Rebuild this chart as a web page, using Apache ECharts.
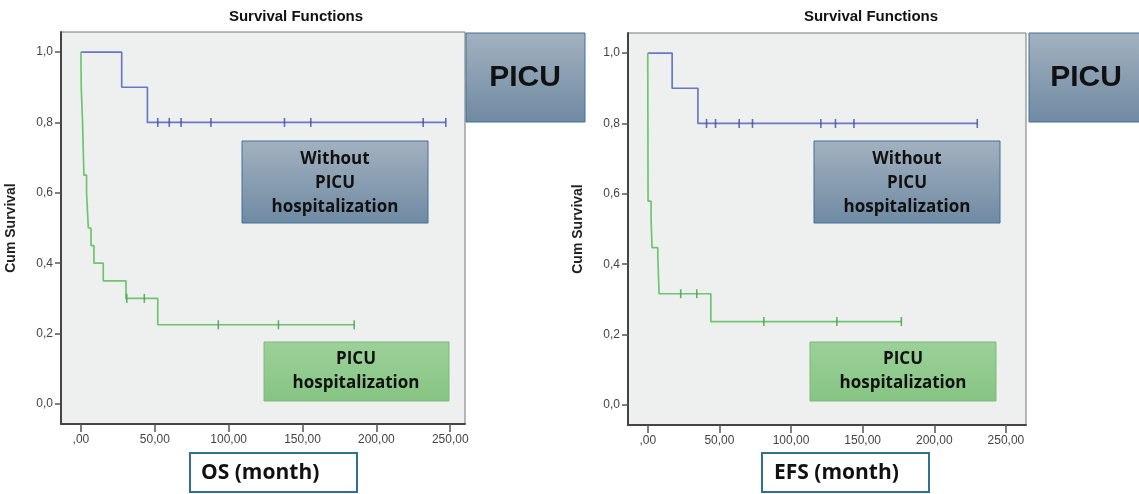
<!DOCTYPE html>
<html>
<head>
<meta charset="utf-8">
<title>Survival Functions</title>
<script src="https://cdn.jsdelivr.net/npm/echarts@6/dist/echarts.min.js"></script>
<style>
  html, body { margin: 0; padding: 0; background: #fff; }
  #chart { width: 1139px; height: 494px; }
</style>
</head>
<body>
<div id="chart"></div>
<script>
// tick labels (SPSS style, comma decimals)
const xTickValues = [0, 50, 100, 150, 200, 250]
const xTickLabels = [',00', '50,00', '100,00', '150,00', '200,00', '250,00']
const yTickValues = [0, 0.2, 0.4, 0.6, 0.8, 1.0]
const yTickLabels = ['0,0', '0,2', '0,4', '0,6', '0,8', '1,0']

// OS - without PICU hospitalization
const osNoPicuTime = [0, 27.6, 45, 247]
const osNoPicuSurv = [1, 0.9, 0.8, 0.8]
const osNoPicuCensor = [52, 59.8, 67.8, 88, 137.8, 155.6, 231.7, 247]

// OS - PICU hospitalization
const osPicuTime = [0, 0.2, 1.1, 2.0, 3.8, 5.0, 6.8, 8.8, 15.1, 30.5, 52, 185]
const osPicuSurv = [1, 0.9, 0.8, 0.65, 0.6, 0.5, 0.45, 0.4, 0.35, 0.3, 0.225, 0.225]
const osPicuCensor = [31, 42.9, 93, 133.7, 185]

// EFS - without PICU hospitalization
const efsNoPicuTime = [0, 17, 35, 230]
const efsNoPicuSurv = [1, 0.9, 0.8, 0.8]
const efsNoPicuCensor = [41, 47.3, 63.8, 73.1, 120.8, 131, 143.9, 230]

// EFS - PICU hospitalization
const efsPicuTime = [0, 0.2, 2.3, 3.0, 7.0, 7.9, 44, 177]
const efsPicuSurv = [1, 0.579, 0.526, 0.447, 0.421, 0.316, 0.237, 0.237]
const efsPicuCensor = [23, 34.2, 81, 132, 177]

const BLUE = '#6b77c6'
const BLUE_DARK = '#3d4ca3'
const GREEN = '#6fc46f'
const GREEN_DARK = '#3f9f49'
const FONT = '"Liberation Sans", Arial, sans-serif'
const BOX_FONT = '"Open Sans", "Liberation Sans", sans-serif'

function pairs(time, surv) {
  return time.map((t, i) => [t, surv[i]])
}

// survival value at time t (step function)
function survAt(time, surv, t) {
  let v = surv[0]
  for (let i = 0; i < time.length; i++) {
    if (time[i] <= t) v = surv[i]
  }
  return v
}

function censorPoints(time, surv, censor) {
  return censor.map(t => [t, survAt(time, surv, t)])
}

function xAxisCfg(gridIndex, min, max) {
  return {
    type: 'value',
    gridIndex: gridIndex,
    min: min,
    max: max,
    splitLine: { show: false },
    axisLine: { show: true, onZero: false, lineStyle: { color: '#444', width: 2 } },
    axisTick: { show: true, customValues: xTickValues, length: 8, lineStyle: { color: '#555', width: 1.5 } },
    axisLabel: {
      customValues: xTickValues,
      color: '#444',
      fontSize: 12,
      fontFamily: FONT,
      margin: 10,
      formatter: v => xTickLabels[xTickValues.indexOf(v)]
    }
  }
}

function yAxisCfg(gridIndex) {
  return {
    type: 'value',
    gridIndex: gridIndex,
    min: -0.057,
    max: 1.057,
    name: 'Cum Survival',
    nameLocation: 'middle',
    nameRotate: 90,
    nameGap: 43,
    nameTextStyle: { fontSize: 14, fontWeight: 'bold', color: '#222', fontFamily: FONT },
    splitLine: { show: false },
    axisLine: { show: true, onZero: false, lineStyle: { color: '#444', width: 2 } },
    axisTick: { show: true, customValues: yTickValues, length: 6, lineStyle: { color: '#555', width: 1.5 } },
    axisLabel: {
      customValues: yTickValues,
      color: '#444',
      fontSize: 12,
      fontFamily: FONT,
      margin: 8,
      formatter: v => yTickLabels[yTickValues.indexOf(Math.round(v * 10) / 10)]
    }
  }
}

function stepSeries(idx, data, color) {
  return {
    type: 'line',
    xAxisIndex: idx,
    yAxisIndex: idx,
    step: 'end',
    showSymbol: false,
    data: data,
    lineStyle: { color: color, width: 1.7 },
    z: 3
  }
}

function censorSeries(idx, data, color) {
  return {
    type: 'scatter',
    xAxisIndex: idx,
    yAxisIndex: idx,
    symbol: 'rect',
    symbolSize: [1.6, 9],
    data: data,
    itemStyle: { color: color },
    z: 4
  }
}

// annotation boxes
function box(x, y, w, h, fill, stroke, lineWidth) {
  return {
    type: 'rect',
    shape: { x: x, y: y, width: w, height: h },
    style: { fill: fill, stroke: stroke, lineWidth: lineWidth || 1 },
    z: 10
  }
}

function label(x, y, text, size, align, family) {
  return {
    type: 'text',
    x: x,
    y: y,
    style: {
      text: text,
      fill: '#111',
      font: 'bold ' + size + 'px ' + (family || BOX_FONT),
      align: align || 'center',
      verticalAlign: 'middle',
      lineHeight: 24
    },
    z: 11
  }
}

const steelFill = new echarts.graphic.LinearGradient(0, 0, 0, 1, [
  { offset: 0, color: '#a2b1bf' },
  { offset: 1, color: '#6f8aa3' }
])
const greenFill = new echarts.graphic.LinearGradient(0, 0, 0, 1, [
  { offset: 0, color: '#9cd199' },
  { offset: 1, color: '#86c483' }
])

const myChart = echarts.init(document.getElementById('chart'), null, { renderer: 'canvas' })

const option = {
  backgroundColor: '#ffffff',
  animation: false,
  grid: [
    { left: 61, top: 32, width: 404, height: 392, show: true, backgroundColor: '#eef0ef', borderColor: '#777', borderWidth: 1 },
    { left: 628, top: 33, width: 398, height: 392, show: true, backgroundColor: '#eef0ef', borderColor: '#777', borderWidth: 1 }
  ],
  xAxis: [xAxisCfg(0, -13.5, 260), xAxisCfg(1, -13.8, 264)],
  yAxis: [yAxisCfg(0), yAxisCfg(1)],
  series: [
    stepSeries(0, pairs(osNoPicuTime, osNoPicuSurv), BLUE),
    censorSeries(0, censorPoints(osNoPicuTime, osNoPicuSurv, osNoPicuCensor), BLUE_DARK),
    stepSeries(0, pairs(osPicuTime, osPicuSurv), GREEN),
    censorSeries(0, censorPoints(osPicuTime, osPicuSurv, osPicuCensor), GREEN_DARK),
    stepSeries(1, pairs(efsNoPicuTime, efsNoPicuSurv), BLUE),
    censorSeries(1, censorPoints(efsNoPicuTime, efsNoPicuSurv, efsNoPicuCensor), BLUE_DARK),
    stepSeries(1, pairs(efsPicuTime, efsPicuSurv), GREEN),
    censorSeries(1, censorPoints(efsPicuTime, efsPicuSurv, efsPicuCensor), GREEN_DARK)
  ],
  graphic: [
    // titles
    label(296, 17, 'Survival Functions', 15, 'center', FONT),
    label(871, 17, 'Survival Functions', 15, 'center', FONT),

    // PICU header boxes
    box(466, 33, 119, 89, steelFill, '#41719c'),
    label(525, 78, 'PICU', 30, 'center', FONT),
    box(1029, 33, 130, 89, steelFill, '#41719c'),
    label(1086, 78, 'PICU', 30, 'center', FONT),

    // without PICU boxes
    box(242, 141, 186, 82, steelFill, '#41719c'),
    label(335, 183, 'Without\nPICU\nhospitalization', 17),
    box(814, 141, 186, 82, steelFill, '#41719c'),
    label(907, 183, 'Without\nPICU\nhospitalization', 17),

    // PICU hospitalization boxes
    box(264, 342, 185, 59, greenFill, '#7cb979'),
    label(356, 371, 'PICU\nhospitalization', 17),
    box(810, 342, 186, 59, greenFill, '#7cb979'),
    label(903, 371, 'PICU\nhospitalization', 17),

    // axis caption boxes
    box(190, 453, 167, 39, '#ffffff', '#31708f', 2),
    label(201, 473, 'OS (month)', 21, 'left'),
    box(762, 453, 167, 39, '#ffffff', '#31708f', 2),
    label(774, 473, 'EFS (month)', 21, 'left')
  ]
}

myChart.setOption(option)
window.addEventListener('resize', () => myChart.resize())
</script>
</body>
</html>
